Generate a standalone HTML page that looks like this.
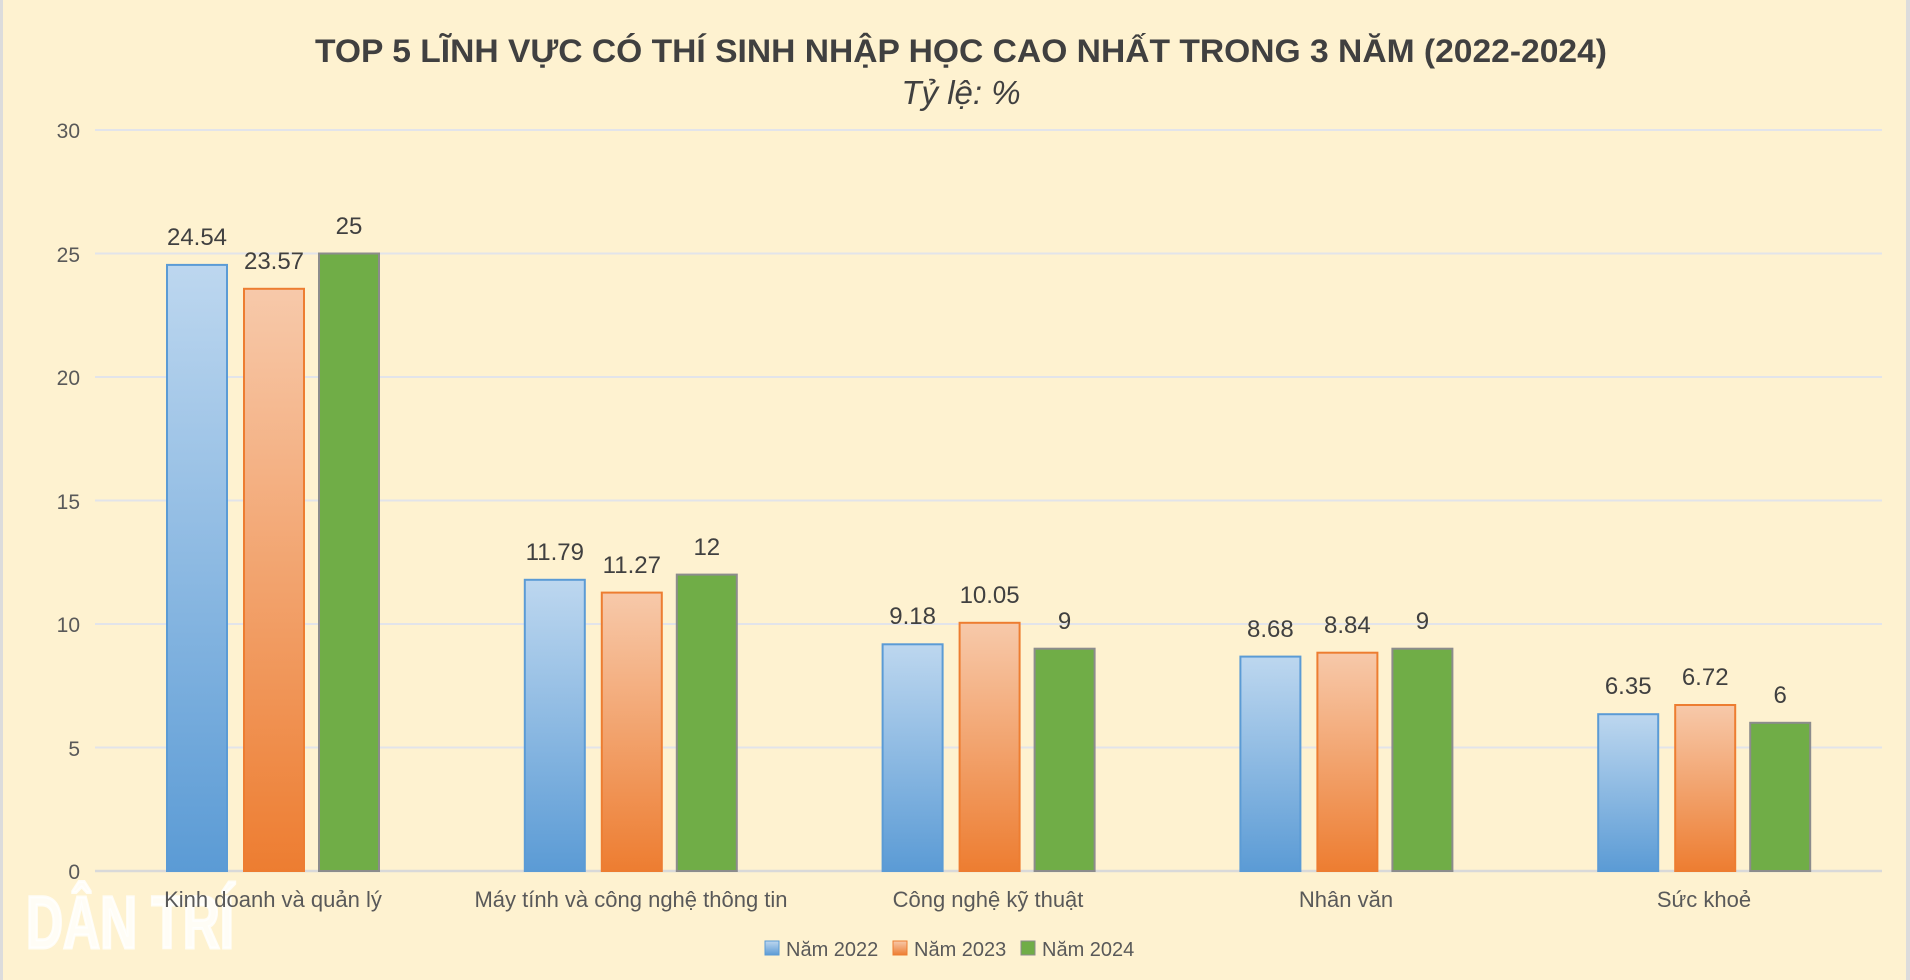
<!DOCTYPE html>
<html><head><meta charset="utf-8"><style>
html,body{margin:0;padding:0;background:#fef2d0;}
svg{display:block;font-family:"Liberation Sans",sans-serif;}
</style></head><body>
<svg width="1910" height="980" viewBox="0 0 1910 980" xmlns="http://www.w3.org/2000/svg">
<defs>
<linearGradient id="gb" x1="0" y1="0" x2="0" y2="1"><stop offset="0" stop-color="#bdd7ef"/><stop offset="1" stop-color="#5b9bd5"/></linearGradient>
<linearGradient id="go" x1="0" y1="0" x2="0" y2="1"><stop offset="0" stop-color="#f7c9aa"/><stop offset="1" stop-color="#ed7d31"/></linearGradient>
</defs>
<rect width="1910" height="980" fill="#fef2d0"/>
<rect x="0" y="0" width="3" height="980" fill="#dcdcdc"/>
<rect x="1906" y="0" width="4" height="980" fill="#dcdcdc"/>
<text x="961" y="62" text-anchor="middle" font-size="32" font-weight="bold" fill="#404040" textLength="1292" lengthAdjust="spacingAndGlyphs">TOP 5 LĨNH VỰC CÓ THÍ SINH NHẬP HỌC CAO NHẤT TRONG 3 NĂM (2022-2024)</text>
<text x="961" y="104" text-anchor="middle" font-size="33" font-style="italic" fill="#404040">Tỷ lệ: %</text>
<g stroke="#e2e4ea" stroke-width="2">
<line x1="95" x2="1882" y1="130" y2="130"/><line x1="95" x2="1882" y1="253.5" y2="253.5"/><line x1="95" x2="1882" y1="377" y2="377"/><line x1="95" x2="1882" y1="500.5" y2="500.5"/><line x1="95" x2="1882" y1="624" y2="624"/><line x1="95" x2="1882" y1="747.5" y2="747.5"/>
</g>
<line x1="95" x2="1882" y1="871" y2="871" stroke="#d9d9d9" stroke-width="2.5"/>
<g font-size="21" fill="#595959" text-anchor="end">
<text x="80" y="138">30</text><text x="80" y="262">25</text><text x="80" y="385">20</text><text x="80" y="509">15</text><text x="80" y="632">10</text><text x="80" y="756">5</text><text x="80" y="879">0</text>
</g>
<text x="26" y="948" font-size="74" font-weight="bold" fill="#ffffff" fill-opacity="0.8" stroke="#ffffff" stroke-width="3" stroke-opacity="0.8" textLength="208" lengthAdjust="spacingAndGlyphs">DÂN TRÍ</text>
<g stroke-width="2">
<rect x="167" y="264.9" width="60" height="606.1" fill="url(#gb)" stroke="#5b9bd5"/>
<rect x="244" y="288.8" width="60" height="582.2" fill="url(#go)" stroke="#ed7d31"/>
<rect x="319" y="253.5" width="60" height="617.5" fill="#70ad47" stroke="#8c8c8c"/>
<rect x="524.8" y="579.8" width="60" height="291.2" fill="url(#gb)" stroke="#5b9bd5"/>
<rect x="601.8" y="592.6" width="60" height="278.4" fill="url(#go)" stroke="#ed7d31"/>
<rect x="676.8" y="574.6" width="60" height="296.4" fill="#70ad47" stroke="#8c8c8c"/>
<rect x="882.6" y="644.3" width="60" height="226.7" fill="url(#gb)" stroke="#5b9bd5"/>
<rect x="959.6" y="622.8" width="60" height="248.2" fill="url(#go)" stroke="#ed7d31"/>
<rect x="1034.6" y="648.7" width="60" height="222.3" fill="#70ad47" stroke="#8c8c8c"/>
<rect x="1240.4" y="656.6" width="60" height="214.4" fill="url(#gb)" stroke="#5b9bd5"/>
<rect x="1317.4" y="652.7" width="60" height="218.3" fill="url(#go)" stroke="#ed7d31"/>
<rect x="1392.4" y="648.7" width="60" height="222.3" fill="#70ad47" stroke="#8c8c8c"/>
<rect x="1598.2" y="714.2" width="60" height="156.8" fill="url(#gb)" stroke="#5b9bd5"/>
<rect x="1675.2" y="705" width="60" height="166" fill="url(#go)" stroke="#ed7d31"/>
<rect x="1750.2" y="722.8" width="60" height="148.2" fill="#70ad47" stroke="#8c8c8c"/>
</g>
<g font-size="24" fill="#404040" text-anchor="middle">
<text x="197" y="245">24.54</text><text x="274" y="269">23.57</text><text x="349" y="234">25</text>
<text x="554.8" y="560">11.79</text><text x="631.8" y="573">11.27</text><text x="706.8" y="555">12</text>
<text x="912.6" y="624">9.18</text><text x="989.6" y="603">10.05</text><text x="1064.6" y="629">9</text>
<text x="1270.4" y="637">8.68</text><text x="1347.4" y="633">8.84</text><text x="1422.4" y="629">9</text>
<text x="1628.2" y="694">6.35</text><text x="1705.2" y="685">6.72</text><text x="1780.2" y="703">6</text>
</g>
<g font-size="22" fill="#595959" text-anchor="middle">
<text x="273" y="907">Kinh doanh và quản lý</text>
<text x="631" y="907">Máy tính và công nghệ thông tin</text>
<text x="988" y="907">Công nghệ kỹ thuật</text>
<text x="1346" y="907">Nhân văn</text>
<text x="1704" y="907">Sức khoẻ</text>
</g>
<g font-size="20" fill="#595959">
<rect x="765" y="941" width="14" height="14" fill="url(#gb)" stroke="#5b9bd5"/>
<text x="786" y="956">Năm 2022</text>
<rect x="893" y="941" width="14" height="14" fill="url(#go)" stroke="#ed7d31"/>
<text x="914" y="956">Năm 2023</text>
<rect x="1021" y="941" width="14" height="14" fill="#70ad47" stroke="#8c8c8c"/>
<text x="1042" y="956">Năm 2024</text>
</g>
</svg>
</body></html>
